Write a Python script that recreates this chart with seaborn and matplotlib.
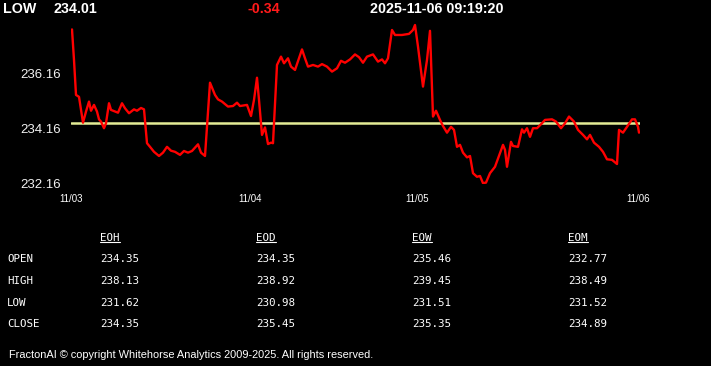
import matplotlib
matplotlib.use("Agg")
import matplotlib.pyplot as plt
import seaborn as sns
import pandas as pd
from matplotlib.lines import Line2D

# ---------------- data ----------------
bar_index = [1, 3, 5, 8, 12, 15, 18, 20, 23, 26, 28, 30, 33, 35, 38, 40, 47, 51, 54, 58,
             63, 66, 70, 73, 76, 79, 83, 88, 92, 96, 100, 104, 109, 113, 117, 121, 127, 130,
             134, 139, 144, 147, 151, 157, 162, 166, 169, 176, 180, 183, 186, 188, 191, 194,
             197, 200, 202, 206, 210, 213, 217, 220, 224, 231, 234, 237, 242, 247, 251, 256,
             261, 266, 270, 274, 279, 284, 288, 292, 296, 302, 307, 311, 314, 317, 321, 324,
             331, 338, 342, 344, 347, 352, 356, 359, 361, 362, 365, 369, 372, 376, 380, 383,
             386, 389, 392, 396, 399, 402, 406, 409, 412, 415, 419, 424, 429, 432, 434, 436,
             440, 442, 447, 451, 453, 456, 459, 462, 466, 471, 474, 481, 485, 490, 494, 498,
             503, 507, 512, 516, 519, 523, 528, 532, 536, 541, 546, 548, 552, 556, 561, 564,
             567, 568]
price = [237.73, 236.63, 235.37, 235.30, 234.37, 234.77, 235.13, 234.80, 235.01, 234.77,
         234.49, 234.41, 234.17, 234.35, 235.07, 234.83, 234.73, 235.07, 234.89, 234.71,
         234.85, 234.80, 234.90, 234.85, 233.63, 233.50, 233.32, 233.17, 233.29, 233.50,
         233.36, 233.32, 233.21, 233.35, 233.29, 233.35, 233.59, 233.29, 233.17, 235.81,
         235.37, 235.21, 235.13, 234.95, 234.97, 235.09, 234.97, 235.01, 234.61, 235.19,
         235.99, 235.19, 233.93, 234.20, 233.60, 233.65, 233.63, 236.45, 236.75, 236.51,
         236.69, 236.39, 236.27, 237.01, 236.69, 236.39, 236.45, 236.39, 236.48, 236.39,
         236.21, 236.33, 236.60, 236.53, 236.65, 236.83, 236.73, 236.53, 236.75, 236.83,
         236.57, 236.65, 236.51, 236.69, 237.71, 237.53, 237.53, 237.57, 237.71, 237.89,
         237.11, 235.67, 236.63, 237.68, 235.67, 234.59, 234.80, 234.47, 234.25, 234.01,
         234.22, 234.11, 233.50, 233.57, 233.29, 233.12, 233.17, 232.55, 232.42, 232.45,
         232.19, 232.21, 232.55, 232.78, 233.28, 233.57, 233.39, 232.78, 233.68, 233.53,
         233.50, 234.13, 234.01, 234.17, 233.86, 234.17, 234.17, 234.35, 234.47, 234.49,
         234.41, 234.17, 234.35, 234.59, 234.41, 234.11, 233.93, 233.77, 233.93, 233.65,
         233.50, 233.32, 233.05, 233.03, 232.88, 234.11, 234.01, 234.22, 234.49, 234.49,
         234.22, 234.01]
prev_close = 234.35

day_ticks = [0, 179, 346, 567]
day_labels = ["11/03", "11/04", "11/05", "11/06"]
y_ticks = [232.16, 234.16, 236.16]

header_label = "LOW"
header_value = "234.01"
header_change = "-0.34"
header_time = "2025-11-06 09:19:20"

table_columns = ["EOH", "EOD", "EOW", "EOM"]
table_rows = ["OPEN", "HIGH", "LOW", "CLOSE"]
eoh_vals = ["234.35", "238.13", "231.62", "234.35"]
eod_vals = ["234.35", "238.92", "230.98", "235.45"]
eow_vals = ["235.46", "239.45", "231.51", "235.35"]
eom_vals = ["232.77", "238.49", "231.52", "234.89"]

footer = "FractonAI \u00a9 copyright Whitehorse Analytics 2009-2025. All rights reserved."

# ---------------- style ----------------
sns.set_theme(style="dark")
plt.rcParams["font.family"] = ["Liberation Sans", "DejaVu Sans"]

W, H = 711, 366
fig = plt.figure(figsize=(W / 100, H / 100), dpi=100, facecolor="black")

def fx(px):
    return px / W

def fy(py):
    return 1 - py / H

ax_left, ax_right, ax_top, ax_bottom = 71, 640, 23, 184
ax = fig.add_axes([fx(ax_left), fy(ax_bottom), (ax_right - ax_left) / W, (ax_bottom - ax_top) / H])
ax.set_facecolor("black")

df = pd.DataFrame({"bar": bar_index, "price": price})
sns.lineplot(data=df, x="bar", y="price", ax=ax, color="#ff0000", linewidth=1.7)
ax.axhline(prev_close, color="#e4ec96", linewidth=1.8, zorder=1)

ax.set_xlim(0, 569)
ax.set_ylim(232.16, 232.16 + (ax_bottom - ax_top) / 27.75)
ax.set_xticks(day_ticks)
ax.set_xticklabels(day_labels)
ax.set_yticks(y_ticks)
ax.set_yticklabels([f"{v:.2f}" for v in y_ticks])
ax.set_xlabel("")
ax.set_ylabel("")
ax.grid(False)
for s in ax.spines.values():
    s.set_visible(False)
ax.tick_params(axis="x", colors="white", length=3.5, width=1, direction="out", pad=3.5,
               labelsize=7, labelcolor="white")
ax.tick_params(axis="y", length=0, pad=7, labelsize=9.5, labelcolor="#f2f2f2")

# ---------------- header ----------------
hy = fy(9)
fig.text(fx(3), hy, header_label, color="white", fontsize=10.3, fontweight="bold", va="center")
fig.text(fx(53), hy, header_value, color="white", fontsize=10.3, fontweight="bold", va="center")
fig.text(fx(247), hy, header_change, color="#ff1a1a", fontsize=10.3, fontweight="bold", va="center")
fig.text(fx(370), hy, header_time, color="white", fontsize=10.3, fontweight="bold", va="center")

# ---------------- table ----------------
mono = ["DejaVu Sans Mono"]
col_x = [100, 256, 412, 568]
row_y = [259, 281, 303, 324]
head_y = 238
all_vals = [eoh_vals, eod_vals, eow_vals, eom_vals]
heads = []
for cx, name in zip(col_x, table_columns):
    t = fig.text(fx(cx), fy(head_y), name, color="white", fontsize=7.8, family=mono, va="center")
    heads.append(t)
for ry, rname in zip(row_y, table_rows):
    fig.text(fx(7), fy(ry), rname, color="white", fontsize=7.8, family=mono, va="center")
for cx, vals in zip(col_x, all_vals):
    for ry, v in zip(row_y, vals):
        fig.text(fx(cx), fy(ry), v, color="white", fontsize=7.8, family=mono, va="center")

fig.canvas.draw()
r = fig.canvas.get_renderer()
for t in heads:
    bb = t.get_window_extent(r)
    yline = (bb.y0 + 0.5) / H
    fig.add_artist(Line2D([bb.x0 / W, bb.x1 / W], [yline, yline], color="white", linewidth=0.8,
                          transform=fig.transFigure))

# ---------------- footer ----------------
fig.text(fx(9), fy(355), footer, color="white", fontsize=7.9, va="center")

fig.savefig("out.png", dpi=100, facecolor="black")
